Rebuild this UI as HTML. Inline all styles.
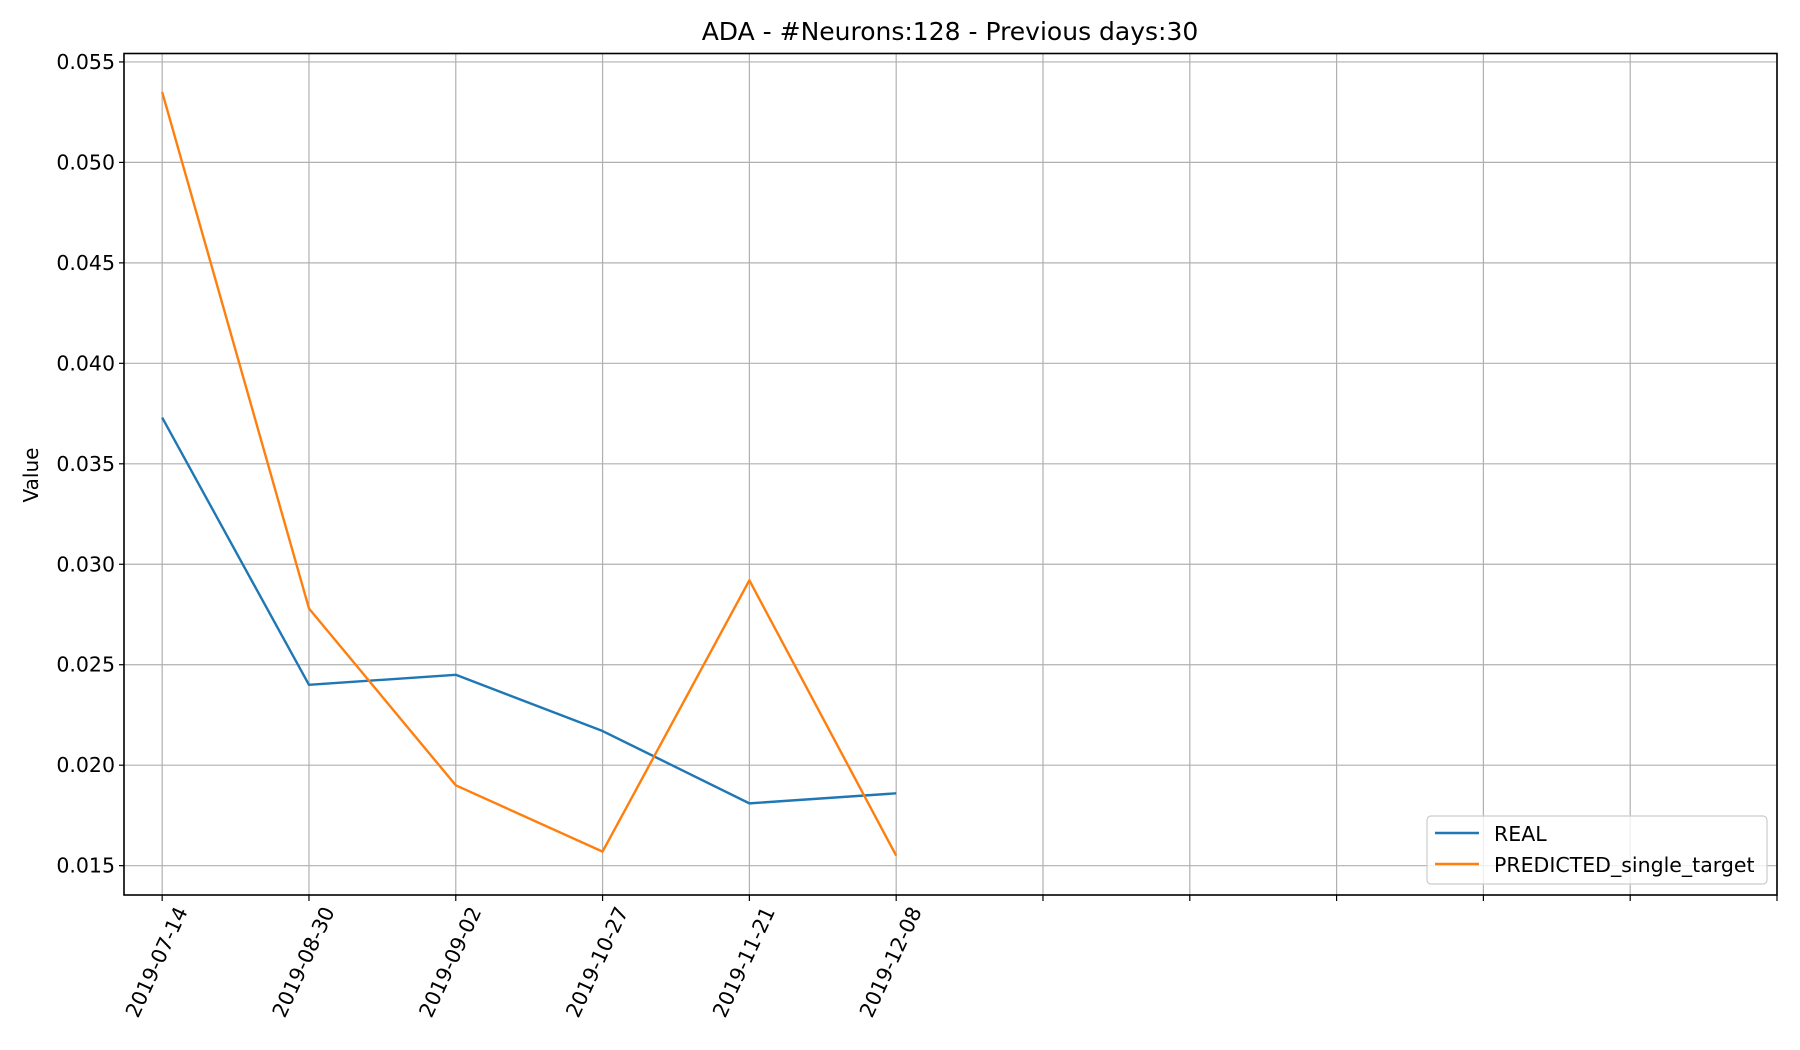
<!DOCTYPE html>
<html><head><meta charset="utf-8"><style>
html,body{margin:0;padding:0;background:#fff;}
svg{display:block;font-family:"DejaVu Sans","Liberation Sans",sans-serif;}
</style></head><body>
<svg id="chart" width="1800" height="1050" viewBox="0 0 1800 1050">
<rect width="1800" height="1050" fill="#fff"/>
<text x="950" y="40" text-anchor="middle" font-size="25">ADA - #Neurons:128 - Previous days:30</text>
<g id="grid"></g>
<g id="series"></g>
<rect x="124" y="53.5" width="1653" height="841.5" fill="none" stroke="#000" stroke-width="1.6"/>
<g id="yticks"></g>
<g id="xticks"></g>
<text transform="translate(38,475) rotate(-90)" text-anchor="middle" font-size="20">Value</text>
<g>
<rect x="1427" y="816" width="340" height="68" rx="4" fill="#fff" fill-opacity="0.8" stroke="#ccc" stroke-width="1.2"/>
<line x1="1435" y1="833" x2="1479" y2="833" stroke="#1f77b4" stroke-width="2.4"/>
<text x="1494" y="841" font-size="20.5">REAL</text>
<line x1="1435" y1="864" x2="1479" y2="864" stroke="#ff7f0e" stroke-width="2.4"/>
<text x="1494" y="872" font-size="20.5">PREDICTED_single_target</text>
</g>
</svg>
<script>
const categories = ["2019-07-14","2019-08-30","2019-09-02","2019-10-27","2019-11-21","2019-12-08"];
const realValues = [0.0373,0.0240,0.0245,0.0217,0.0181,0.0186];
const predictedValues = [0.0535,0.0278,0.0190,0.0157,0.0292,0.0155];
const yTickLabels = ["0.015","0.020","0.025","0.030","0.035","0.040","0.045","0.050","0.055"];
const xTickCount = 12;

const NS = "http://www.w3.org/2000/svg";
const L=124,R=1777,T=53.5,B=895;
const xMin=-0.26,xMax=11,yMin=0.01354,yMax=0.05542;
function xs(i){return L+(i-xMin)/(xMax-xMin)*(R-L);}
function ys(v){return B-(v-yMin)/(yMax-yMin)*(B-T);}
function mk(tag,attrs,parent){const e=document.createElementNS(NS,tag);for(const k in attrs)e.setAttribute(k,attrs[k]);parent.appendChild(e);return e;}
const grid=document.getElementById('grid'),yt=document.getElementById('yticks'),xt=document.getElementById('xticks'),ser=document.getElementById('series');
yTickLabels.forEach(t=>{const y=ys(parseFloat(t));
 const g=mk('line',{x1:L,x2:R,y1:y,y2:y,stroke:'#b0b0b0','stroke-width':1.2},grid);
 
 
 const tk=mk('line',{x1:L-5,x2:L,y1:y,y2:y,stroke:'#000','stroke-width':1.2},yt);
 
 
 const tx=mk('text',{x:L-9,y:y+7,'text-anchor':'end','font-size':20.5},yt);
 tx.textContent=t;
 
 
});
for(let i=0;i<xTickCount;i++){const x=xs(i);
 const g=mk('line',{x1:x,x2:x,y1:T,y2:B,stroke:'#b0b0b0','stroke-width':1.2},grid);
 
 
 const tk=mk('line',{x1:x,x2:x,y1:B,y2:B+6,stroke:'#000','stroke-width':1.2},xt);
 
 
 if(i<categories.length){
  const tx=mk('text',{transform:`translate(${x+26},${B+16}) rotate(-65)`,'text-anchor':'end','font-size':20.5},xt);
  tx.textContent=categories[i];
  
  
 }
}
function line(vals,color,name){
 const p=mk('polyline',{points:vals.map((v,i)=>xs(i)+','+ys(v)).join(' '),fill:'none',stroke:color,'stroke-width':2.4,'stroke-linejoin':'round'},ser);
 
 
}
line(realValues,'#1f77b4','real-line');
line(predictedValues,'#ff7f0e','predicted-line');
</script>
</body></html>
